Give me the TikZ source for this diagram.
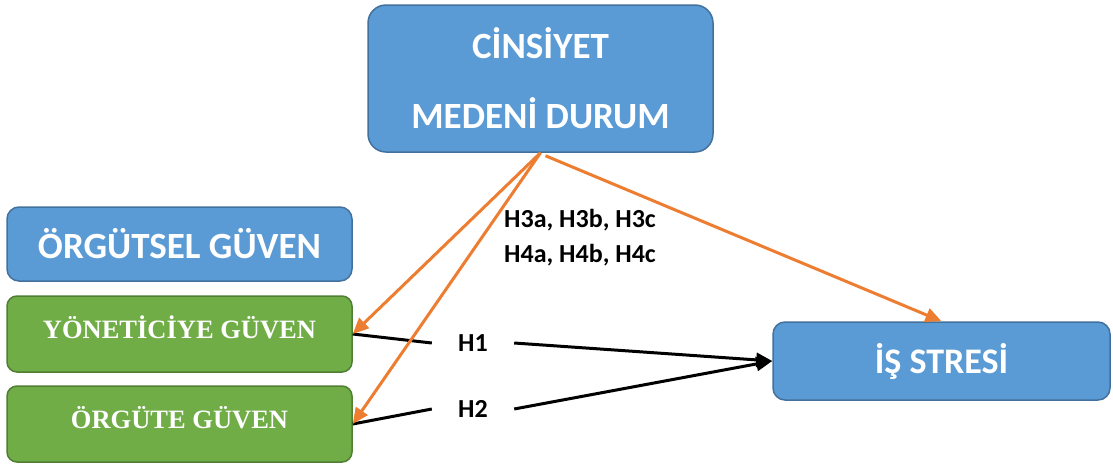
\documentclass[tikz,border=0pt]{standalone}
\usepackage{fontspec}
\setmainfont{Carlito}
\newfontfamily\serifb{Liberation Serif}
\usetikzlibrary{arrows.meta,calc}
\definecolor{bfill}{HTML}{5B9BD5}
\definecolor{bline}{HTML}{41719C}
\definecolor{gfill}{HTML}{70AD47}
\definecolor{gline}{HTML}{507E32}
\definecolor{orng}{HTML}{ED7D31}
\tikzset{
  bluebox/.style={draw=bline, fill=bfill, line width=1.5pt, rounded corners=12pt, text=white, font=\bfseries\fontsize{37}{40}\selectfont, inner sep=0pt},
  greenbox/.style={draw=gline, fill=gfill, line width=1.5pt, rounded corners=10pt, text=white, font=\serifb\bfseries\fontsize{26.5}{28}\selectfont, inner sep=0pt, minimum width=345pt, minimum height=76pt},
  hlabel/.style={font=\bfseries\fontsize{26}{35}\selectfont, inner sep=0pt},
  oarrow/.style={draw=orng, line width=3pt, -{Triangle[length=16pt,width=14pt]}},
  barrow/.style={draw=black, line width=3pt},
}
\begin{document}
\begin{tikzpicture}[x=1pt,y=-1pt]
\useasboundingbox (0,0) rectangle (1113,464);
\node[bluebox, rounded corners=18pt, minimum width=345pt, minimum height=147pt, align=center, font=\bfseries\fontsize{37}{70}\selectfont] (top) at (540.5,78.5) {CİNSİYET\\MEDENİ DURUM};
\node[bluebox, minimum width=345pt, minimum height=74pt] (org) at (179.5,244) {ÖRGÜTSEL GÜVEN};
\node[greenbox] (yon) at (179.5,334) {\raisebox{14pt}{YÖNETİCİYE GÜVEN}};
\node[greenbox] (ors) at (179.5,424) {\raisebox{14pt}{ÖRGÜTE GÜVEN}};
\node[bluebox, minimum width=337pt, minimum height=78pt, font=\bfseries\fontsize{36}{40}\selectfont] (is) at (941.5,361) {İŞ STRESİ};
\node[hlabel, align=left, anchor=north west] (h34) at (504,209) {H3a, H3b, H3c\\H4a, H4b, H4c};
\node[hlabel, minimum width=82pt, minimum height=20pt] (h1) at (473,343) {H1};
\node[hlabel, minimum width=82pt, minimum height=20pt] (h2) at (473,409) {H2};
\draw[barrow] (yon.east) -- (h1.west);
\draw[barrow, -{Triangle[length=16pt,width=14pt]}] (h1.east) -- (is.west);
\draw[barrow] (ors.east) -- (h2.west);
\draw[barrow, -{Triangle[length=16pt,width=14pt]}] (h2.east) -- (is.west);
\draw[oarrow] (top.south) -- (yon.east);
\draw[oarrow] (top.south) -- (ors.east);
\draw[oarrow] ($(top.south)+(5,3)$) -- (is.north);
\end{tikzpicture}
\end{document}
